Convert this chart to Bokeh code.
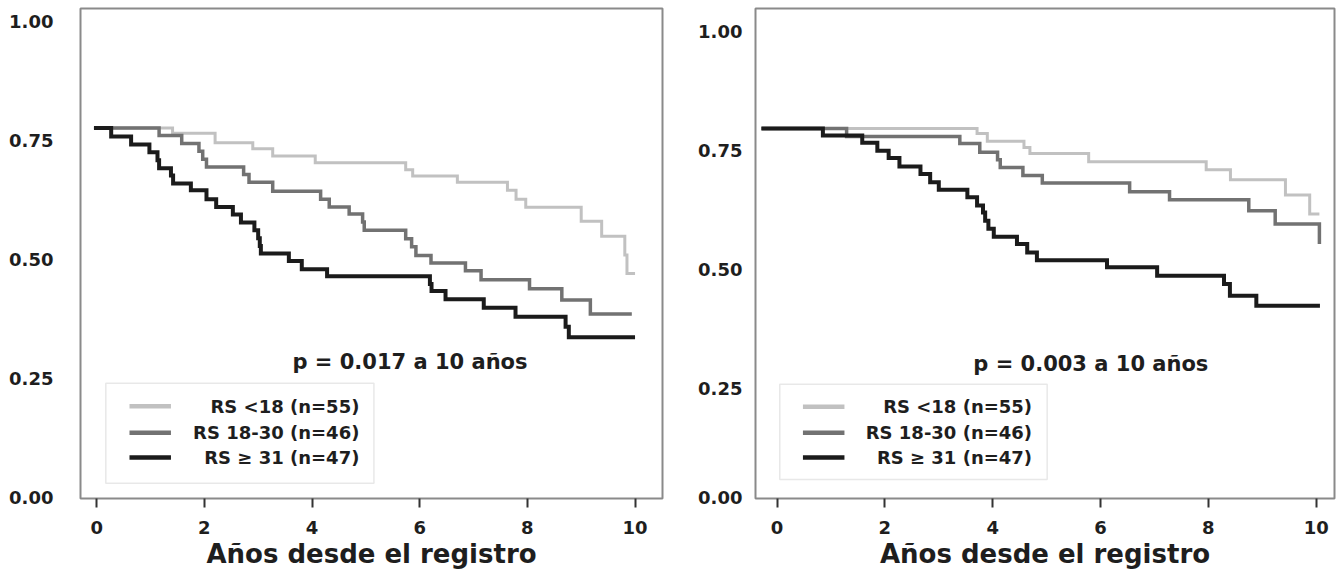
from bokeh.plotting import figure
from bokeh.layouts import row
from bokeh.models import FixedTicker, BoxAnnotation, Range1d, NumeralTickFormatter
from bokeh.core.properties import value
from bokeh.embed import file_html
from bokeh.resources import INLINE

FONT = "DejaVu Sans"
TXT = "#1e1e1e"

# ---------------- data ----------------
x_ticks = [0, 2, 4, 6, 8, 10]
y_ticks = [0.0, 0.25, 0.50, 0.75, 1.00]
group_labels = ["RS <18 (n=55)", "RS 18-30 (n=46)", "RS \u2265 31 (n=47)"]
group_colors = ["#c1c1c1", "#727272", "#1b1b1b"]
group_widths = [3, 3.5, 4]
x_label = "Años desde el registro"
p_texts = ["p = 0.017 a 10 años", "p = 0.003 a 10 años"]

# left panel (Kaplan-Meier steps)
left_low_t = [-0.05, 1.41, 2.20, 2.90, 3.27, 4.06, 5.74, 5.87, 6.70, 7.63, 7.79, 7.97, 9.00, 9.38, 9.81, 9.85, 10.0]
left_low_s = [0.776, 0.765, 0.745, 0.732, 0.717, 0.703, 0.688, 0.675, 0.662, 0.645, 0.626, 0.609, 0.580, 0.548, 0.509, 0.470, 0.470]

left_mid_t = [-0.05, 1.16, 1.58, 1.90, 1.97, 2.04, 2.73, 2.83, 3.27, 4.16, 4.32, 4.69, 4.94, 4.97, 5.74, 5.85, 5.93, 6.21, 6.85, 7.14, 8.04, 8.64, 9.17, 9.94]
left_mid_s = [0.776, 0.760, 0.743, 0.727, 0.710, 0.694, 0.678, 0.662, 0.643, 0.626, 0.610, 0.595, 0.578, 0.561, 0.543, 0.526, 0.508, 0.492, 0.476, 0.457, 0.438, 0.414, 0.385, 0.385]

left_high_t = [-0.05, 0.27, 0.64, 0.98, 1.13, 1.16, 1.38, 1.42, 1.75, 2.04, 2.22, 2.53, 2.68, 2.93, 3.00, 3.03, 3.05, 3.57, 3.81, 4.28, 6.19, 6.22, 6.48, 7.19, 7.78, 8.71, 8.77, 10.0]
left_high_s = [0.776, 0.758, 0.741, 0.725, 0.708, 0.691, 0.676, 0.659, 0.645, 0.626, 0.610, 0.594, 0.577, 0.561, 0.544, 0.528, 0.512, 0.496, 0.479, 0.464, 0.448, 0.433, 0.416, 0.398, 0.379, 0.358, 0.336, 0.336]

# right panel
right_low_t = [-0.29, 3.71, 3.90, 4.58, 4.69, 5.78, 7.96, 8.41, 9.43, 9.88, 10.06]
right_low_s = [0.796, 0.785, 0.769, 0.756, 0.743, 0.726, 0.709, 0.688, 0.656, 0.616, 0.616]

right_mid_t = [-0.29, 1.29, 3.39, 3.76, 4.09, 4.14, 4.56, 4.92, 6.54, 7.28, 8.75, 9.24, 10.06]
right_mid_s = [0.796, 0.779, 0.764, 0.746, 0.730, 0.714, 0.697, 0.681, 0.663, 0.646, 0.623, 0.595, 0.553]

right_high_t = [-0.29, 0.85, 1.58, 1.86, 2.07, 2.27, 2.66, 2.84, 3.00, 3.53, 3.71, 3.82, 3.86, 3.92, 4.02, 4.45, 4.64, 4.82, 6.12, 7.05, 8.29, 8.40, 8.89, 10.07]
right_high_s = [0.796, 0.781, 0.766, 0.749, 0.734, 0.716, 0.700, 0.683, 0.667, 0.651, 0.634, 0.619, 0.602, 0.585, 0.568, 0.553, 0.535, 0.519, 0.504, 0.486, 0.469, 0.444, 0.423, 0.423]


def make_panel(width, border_left, border_right, xr, yr, yticks, overrides, standoff,
               curves, p_text, p_pos, leg_box, leg_line_x, leg_rows, leg_text_x):
    p = figure(width=width, height=574, output_backend="svg", toolbar_location=None,
               x_range=Range1d(*xr), y_range=Range1d(*yr),
               min_border_left=border_left, min_border_right=border_right,
               min_border_top=8, min_border_bottom=76)
    p.grid.visible = False
    p.outline_line_color = "#8a8a8a"
    p.outline_line_width = 2
    p.background_fill_color = "white"
    p.border_fill_color = "white"

    xa = p.xaxis[0]
    xa.ticker = FixedTicker(ticks=x_ticks)
    xa.axis_line_color = None
    xa.major_tick_in = 0
    xa.major_tick_out = 9
    xa.major_tick_line_width = 2
    xa.major_tick_line_color = "#333333"
    xa.minor_tick_line_color = None
    xa.major_label_standoff = 13
    xa.major_label_text_font = FONT
    xa.major_label_text_font_style = "bold"
    xa.major_label_text_font_size = "18px"
    xa.major_label_text_color = TXT
    xa.axis_label = x_label
    xa.axis_label_standoff = 2
    xa.axis_label_text_font = FONT
    xa.axis_label_text_font_style = "bold"
    xa.axis_label_text_font_size = "26px"
    xa.axis_label_text_color = TXT

    ya = p.yaxis[0]
    ya.ticker = FixedTicker(ticks=yticks)
    ya.formatter = NumeralTickFormatter(format="0.00")
    if overrides:
        ya.major_label_overrides = overrides
    ya.axis_line_color = None
    ya.major_tick_in = 0
    ya.major_tick_out = 0
    ya.minor_tick_line_color = None
    ya.major_label_standoff = standoff
    ya.major_label_text_font = FONT
    ya.major_label_text_font_style = "bold"
    ya.major_label_text_font_size = "18px"
    ya.major_label_text_color = TXT

    for (t, s), col, lw in zip(curves, group_colors, group_widths):
        p.step(x=t, y=s, mode="after", line_color=col, line_width=lw, line_join="miter")

    p.text(x=[p_pos[0]], y=[p_pos[1]], text=[p_text], text_align="center", text_baseline="middle",
           text_font=value(FONT), text_font_style="bold", text_font_size="21px", text_color=TXT)

    p.add_layout(BoxAnnotation(left=leg_box[0], right=leg_box[1], bottom=leg_box[2], top=leg_box[3],
                               fill_color="white", fill_alpha=1.0, line_color="#b4b4b4", line_width=1.5,
                               level="underlay"))
    for lab, col, yy in zip(group_labels, group_colors, leg_rows):
        p.segment(x0=[leg_line_x[0]], x1=[leg_line_x[1]], y0=[yy], y1=[yy], line_color=col,
                  line_width=4.5)
        p.text(x=[leg_text_x], y=[yy], text=[lab], text_align="right", text_baseline="middle",
               text_font=value(FONT), text_font_style="bold", text_font_size="18px",
               text_color=TXT)
    return p


left = make_panel(680, 80, 18, (-0.30, 10.51), (-0.003, 1.027), y_ticks, None, 27,
                  [(left_low_t, left_low_s), (left_mid_t, left_mid_s), (left_high_t, left_high_s)],
                  p_texts[0], (5.82, 0.284),
                  (0.17, 5.15, 0.029, 0.239), (0.61, 1.38), (0.191, 0.135, 0.083), 4.88)

# right panel: its frame starts just above 0, the bottom label is still "0.00"
right_ticks = [0.02] + y_ticks[1:]
right = make_panel(656, 75, 2, (-0.40, 10.34), (0.018, 1.048), right_ticks, {0.02: "0.00"}, 13,
                   [(right_low_t, right_low_s), (right_mid_t, right_mid_s), (right_high_t, right_high_s)],
                   p_texts[1], (5.82, 0.301),
                   (0.05, 5.01, 0.058, 0.258), (0.48, 1.25), (0.211, 0.156, 0.104), 4.73)

layout = row(left, right)
open("out.html", "w").write(file_html(layout, INLINE))
